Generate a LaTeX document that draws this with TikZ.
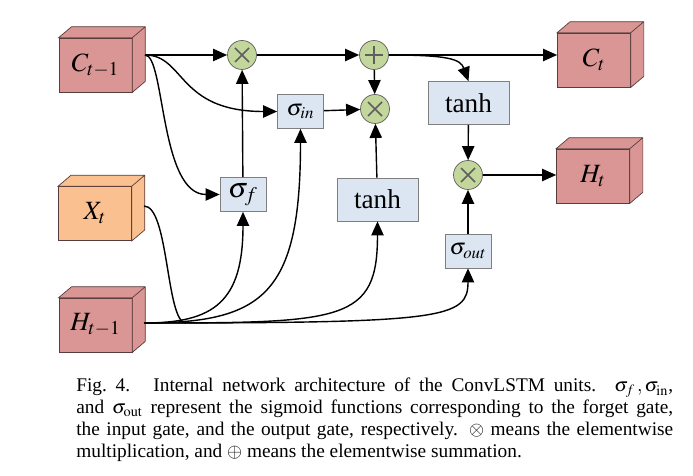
\documentclass[tikz,border=0pt]{standalone}
\usepackage{mathptmx}
\usepackage{fontspec}
\setmainfont{Liberation Serif}
\usepackage{tikz}
\usetikzlibrary{arrows.meta,calc}
\definecolor{cubered}{HTML}{D99694}
\definecolor{cubeorange}{HTML}{FAC08F}
\definecolor{cubeedge}{HTML}{5A3C3C}
\definecolor{gatefill}{HTML}{DCE6F2}
\definecolor{gateedge}{HTML}{7F7F7F}
\definecolor{opfill}{HTML}{C3D69B}
\definecolor{opedge}{HTML}{5F5F5F}

\begin{document}
\begin{tikzpicture}[x=0.02cm,y=0.02cm,
  tensor/.style={draw=cubeedge,fill=#1,minimum width=1.46cm,minimum height=1.08cm,
    inner sep=0pt,font=\fontsize{15}{17}\selectfont},
  gate/.style={draw=gateedge,fill=gatefill,minimum width=0.92cm,minimum height=0.68cm,inner sep=0pt},
  act/.style={gate,minimum width=1.62cm,minimum height=0.86cm,font=\fontsize{15.5}{18}\selectfont},
  op/.style={circle,draw=opedge,fill=opfill,minimum size=0.58cm,inner sep=0pt},
  timesop/.style={op,path picture={
    \draw[line width=0.9pt] ($(path picture bounding box.center)+(-7,-7)$) -- ++(14,14)
      ($(path picture bounding box.center)+(-7,7)$) -- ++(14,-14);}},
  plusop/.style={op,path picture={
    \draw[line width=0.9pt] ($(path picture bounding box.center)+(-9,0)$) -- ++(18,0)
      ($(path picture bounding box.center)+(0,-9)$) -- ++(0,18);}},
  arr/.style={line width=0.8pt,-{Triangle[length=8pt,width=7pt]}},
  wire/.style={line width=0.8pt}]
  \useasboundingbox (0,0) rectangle (693,-476);

  % inputs and outputs
  \node[tensor=cubered] (cprev) at (95.5,-65) {$C_{t-1}$};
  \node[tensor=cubeorange] (xt) at (95,-213.5) {$X_t$};
  \node[tensor=cubered] (hprev) at (95.5,-325) {$H_{t-1}$};
  \node[tensor=cubered] (ct) at (594,-60) {$C_t$};
  \node[tensor=cubered] (ht) at (593,-176) {$H_t$};
  \foreach \n/\c in {cprev/cubered,xt/cubeorange,hprev/cubered,ct/cubered,ht/cubered}
    \draw[cubeedge,fill=\c] (\n.north west) -- ++(13,11) -- ($(\n.north east)+(13,11)$)
      -- ($(\n.south east)+(13,11)$) -- (\n.south east) -- (\n.north east) -- cycle
      (\n.north east) -- ++(13,11);
  \coordinate (cout) at (145,-55);
  \coordinate (xout) at (144,-206);
  \coordinate (hout) at (144,-323);
  \coordinate (join) at (186,-323);

  % gates
  \node[gate,font=\fontsize{16}{18}\selectfont] (sf) at (243,-194.5) {$\sigma_f$};
  \node[gate,font=\fontsize{13}{15}\selectfont] (si) at (300.5,-111.5) {$\sigma_{in}$};
  \node[gate,font=\fontsize{13}{15}\selectfont] (so) at (468,-251) {$\sigma_{out}$};
  \node[act] (tc) at (377.5,-199.5) {tanh};
  \node[act] (th) at (468.5,-103) {tanh};

  % elementwise operations
  \node[timesop] (mf) at (242,-55) {};
  \node[plusop] (add) at (374,-55) {};
  \node[timesop] (mi) at (375,-109) {};
  \node[timesop] (mo) at (468,-175) {};

  % cell path
  \draw[arr] (cout) -- (mf);
  \draw[arr] (mf) -- (add);
  \draw[arr] (add) -- (add -| ct.west);
  \draw[arr] (add.east) .. controls +(60,0) and +(-8,22) .. (th.north);
  \draw[arr] (add) -- (mi);
  \draw[arr] (sf) -- (mf);
  \draw[arr] (si) -- (mi);
  \draw[arr] (tc) -- (mi);
  \draw[arr] (th) -- (mo);
  \draw[arr] (so) -- (mo);
  \draw[arr] (mo) -- (mo -| ht.west);

  % C_{t-1} into the gates
  \draw[arr] (cout) .. controls +(40,0) and +(-100,0) .. (si.west);
  \draw[arr] (cout) .. controls +(20,0) and +(-60,0) .. (sf.west);

  % X_t and H_{t-1} into the gates
  \draw[wire] (xout) .. controls +(25,0) and +(-20,0) .. (join);
  \draw[arr] (hout) .. controls +(70,0) and +(0,-90) .. (sf.south);
  \draw[arr] (hout) .. controls +(120,0) and +(0,-165) .. (si.south);
  \draw[arr] (hout) .. controls +(200,0) and +(0,-100) .. (tc.south);
  \draw[arr] (hout) .. controls +(300,0) and +(0,-50) .. (so.south);

  % caption
  \node[anchor=north west,inner sep=0pt,text width=11.94cm,align=justify,
    font=\fontsize{11}{12.5}\selectfont] (cap) at (76,-378)
    {Fig.~4.\hspace{1.2em}Internal network architecture of the ConvLSTM units. $\sigma_f\,,\sigma_{\mathrm{in}}$,\linebreak
     and $\sigma_{\mathrm{out}}$ represent the sigmoid functions corresponding to the forget gate,\linebreak
     the input gate, and the output gate, respectively. $\otimes$ means the elementwise\linebreak
     multiplication, and $\oplus$ means the elementwise summation.};
\end{tikzpicture}
\end{document}
